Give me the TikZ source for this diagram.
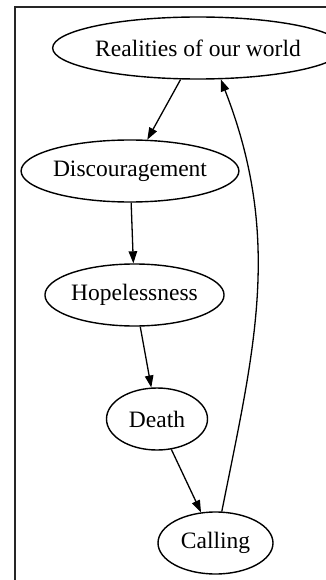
\documentclass[tikz,border=0pt]{standalone}
\usepackage{fontspec}
\setmainfont{Liberation Serif}
\usetikzlibrary{shapes.geometric,arrows.meta}
\tikzset{
  gnode/.style={draw=black, ellipse, line width=1.4pt, inner sep=0pt,
    font=\fontsize{23.5}{28}\selectfont},
  gedge/.style={draw=black, line width=1.3pt,
    -{Triangle[length=12pt,width=8.5pt]}},
  frame/.style={draw=black!85, line width=2pt}
}
\begin{document}
\begin{tikzpicture}[x=1pt,y=-1pt]
\useasboundingbox (0,0) rectangle (326,580);
\fill[white] (0,0) rectangle (326,580);
\coordinate (fa) at (326,7.5);
\coordinate (fb) at (14.5,7.5);
\coordinate (fc) at (14.5,580);
\draw[frame] (fa) -- (fb) -- (fc);
\node[gnode, minimum width=254pt, minimum height=62pt] (real) at (198,48) {Realities of our world};
\node[gnode, minimum width=210pt, minimum height=62pt] (disc) at (130,171) {Discouragement};
\node[gnode, minimum width=175pt, minimum height=62pt] (hope) at (134.5,295) {Hopelessness};
\node[gnode, minimum width=101pt, minimum height=62pt] (death) at (157,419) {Death};
\node[gnode, minimum width=115pt, minimum height=62pt] (call) at (215.5,543) {Calling};
\draw[gedge] (real) -- (disc);
\draw[gedge] (disc) -- (hope);
\draw[gedge] (hope) -- (death);
\draw[gedge] (death) -- (call);
\draw[gedge] (call) .. controls (254,350) and (283,239) .. (real.-54);
\end{tikzpicture}
\end{document}
